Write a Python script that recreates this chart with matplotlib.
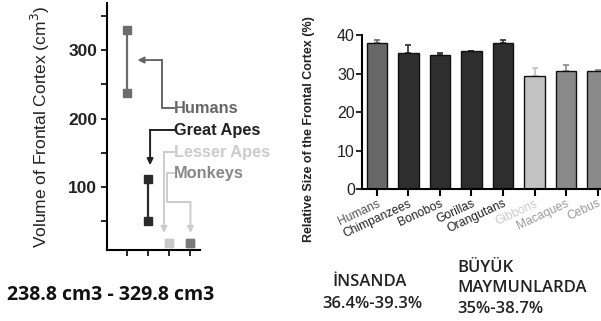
import numpy as np
import matplotlib
matplotlib.use('Agg')
import matplotlib.pyplot as plt

plt.rcParams['font.family'] = ['Liberation Sans', 'DejaVu Sans']

# left panel: frontal cortex volume ranges (cm3)
groups = ['Humans', 'Great Apes', 'Lesser Apes', 'Monkeys']
vol_min = [237, 50, 18, 18]
vol_max = [330, 112, 18, 18]
group_cols = ['#6c6c6c', '#2a2a2a', '#c8c8c8', '#7a7a7a']
label_cols = ['#666666', '#222222', '#cccccc', '#888888']

# right panel: relative size of frontal cortex (%)
species = ['Humans', 'Chimpanzees', 'Bonobos', 'Gorillas', 'Orangutans',
           'Gibbons', 'Macaques', 'Cebus']
rel_size = [37.8, 35.3, 34.8, 35.9, 37.8, 29.3, 30.7, 30.7]
rel_err = [0.8, 2.2, 0.5, 0.0, 0.8, 2.1, 1.5, 0.2]
bar_cols = ['#676767', '#2e2e2e', '#2e2e2e', '#2e2e2e', '#2e2e2e',
            '#c2c2c2', '#8a8a8a', '#8a8a8a']
tick_cols = ['#555555', '#222222', '#222222', '#222222', '#222222',
             '#cccccc', '#999999', '#999999']

notes_left = '238.8 cm3 - 329.8 cm3'
notes_h = ['İNSANDA', '36.4%-39.3%']
notes_a = ['BÜYÜK', 'MAYMUNLARDA', '35%-38.7%']

fig = plt.figure(figsize=(6.01, 3.21), dpi=100)

# ---- left panel
ax1 = fig.add_axes([0.178, 0.221, 0.155, 0.770])
xs = np.arange(1, len(groups) + 1)
for x, lo, hi, c in zip(xs, vol_min, vol_max, group_cols):
    ax1.plot([x, x], [lo, hi], color=c, lw=1.6, zorder=2)
    ax1.plot([x, x], [lo, hi], 's', color=c, ms=6, zorder=3)
ax1.set_xlim(0.05, 4.48)
ax1.set_ylim(8, 369)
ax1.set_yticks([100, 200, 300])
ax1.set_yticks([50, 150, 250, 350], minor=True)
ax1.set_xticks(xs)
ax1.set_xticklabels([])
for s in ['top', 'right']:
    ax1.spines[s].set_visible(False)
for s in ['left', 'bottom']:
    ax1.spines[s].set_linewidth(1.5)
ax1.tick_params(axis='both', which='both', length=4, width=1.2, direction='out')
ax1.tick_params(axis='y', labelsize=12.5, pad=3)
for t in ax1.get_yticklabels():
    t.set_fontweight('bold')
    t.set_color('#222222')
ax1.set_ylabel('Volume of Frontal Cortex (cm$^3$)', fontsize=12.5,
               color='#222222', labelpad=12)

# group labels with elbow arrows
lab_x = 3.25
lab_y = [215, 183, 151, 120]
for g, y, c in zip(groups, lab_y, label_cols):
    ax1.text(lab_x, y, g, color=c, fontsize=11.8, fontweight='bold',
             va='center', ha='left', clip_on=False)

arr = dict(arrowstyle='-|>', lw=1.4, mutation_scale=9, shrinkA=0, shrinkB=0)
# humans
hy = (vol_min[0] + vol_max[0]) / 2 + 2
ax1.plot([lab_x, 2.67, 2.67], [lab_y[0], lab_y[0], hy], color=label_cols[0],
         lw=1.4, clip_on=False)
ax1.annotate('', xy=(1.5, hy), xytext=(2.67, hy),
             arrowprops=dict(arr, color=label_cols[0]))
# great apes
ax1.plot([lab_x, 2.1], [lab_y[1], lab_y[1]], color=label_cols[1], lw=1.4,
         clip_on=False)
ax1.annotate('', xy=(2.1, vol_max[1] + 20), xytext=(2.1, lab_y[1]),
             arrowprops=dict(arr, color=label_cols[1]))
# lesser apes
ax1.plot([lab_x, 2.76], [lab_y[2], lab_y[2]], color=label_cols[2], lw=1.4,
         clip_on=False)
ax1.annotate('', xy=(2.76, vol_min[2] + 15), xytext=(2.76, lab_y[2]),
             arrowprops=dict(arr, color=label_cols[2]))
# monkeys
ax1.plot([lab_x, 2.92, 2.92, 4.02], [lab_y[3], lab_y[3], 78, 78],
         color=label_cols[2], lw=1.4, clip_on=False)
ax1.annotate('', xy=(4.02, vol_min[3] + 15), xytext=(4.02, 78),
             arrowprops=dict(arr, color=label_cols[2]))

# ---- right panel
ax2 = fig.add_axes([0.602, 0.411, 0.398, 0.480])
pos = np.arange(len(species))
ax2.bar(pos, rel_size, width=0.65, color=bar_cols, edgecolor='#111111',
        lw=1.0, zorder=2)
for p, v, e, c in zip(pos, rel_size, rel_err, bar_cols):
    ax2.errorbar([p], [v], yerr=[[0], [e]], fmt='none', ecolor=c,
                 elinewidth=1.2, capsize=2.5, capthick=1.2, zorder=1)
ax2.set_xlim(-0.48, 7.11)
ax2.set_ylim(0, 40)
ax2.set_yticks([0, 10, 20, 30, 40])
ax2.set_xticks(pos)
ax2.set_xticklabels(species, rotation=25, ha='right', rotation_mode='anchor',
                    fontsize=8.7)
for t, c in zip(ax2.get_xticklabels(), tick_cols):
    t.set_color(c)
for s in ['top', 'right']:
    ax2.spines[s].set_visible(False)
for s in ['left', 'bottom']:
    ax2.spines[s].set_linewidth(1.5)
ax2.tick_params(axis='x', length=5, width=1.5, pad=1)
ax2.tick_params(axis='y', length=4, width=1.2, labelsize=11.5, pad=1,
                labelcolor='#222222')
ax2.set_ylabel('Relative Size of the Frontal Cortex (%)', fontsize=9,
               fontweight='bold', color='#222222')
ax2.yaxis.set_label_coords(-0.195, 0.39)

# ---- bottom notes
fig.text(7 / 601, 1 - 295 / 321, notes_left, fontsize=14,
         fontweight='bold', family='Open Sans', va='center', ha='left',
         color='#111111')
fig.text(332 / 601, 1 - 282 / 321, notes_h[0], fontsize=12,
         fontweight='semibold', family='Open Sans', va='center', ha='left',
         color='#222222')
fig.text(322 / 601, 1 - 304 / 321, notes_h[1], fontsize=12,
         fontweight='semibold', family='Open Sans', va='center', ha='left',
         color='#222222')
for txt, y in zip(notes_a, [268, 288, 309]):
    fig.text(457 / 601, 1 - y / 321, txt, fontsize=12, fontweight='semibold',
             family='Open Sans', va='center', ha='left', color='#222222')

fig.savefig('out.png', dpi=100)
